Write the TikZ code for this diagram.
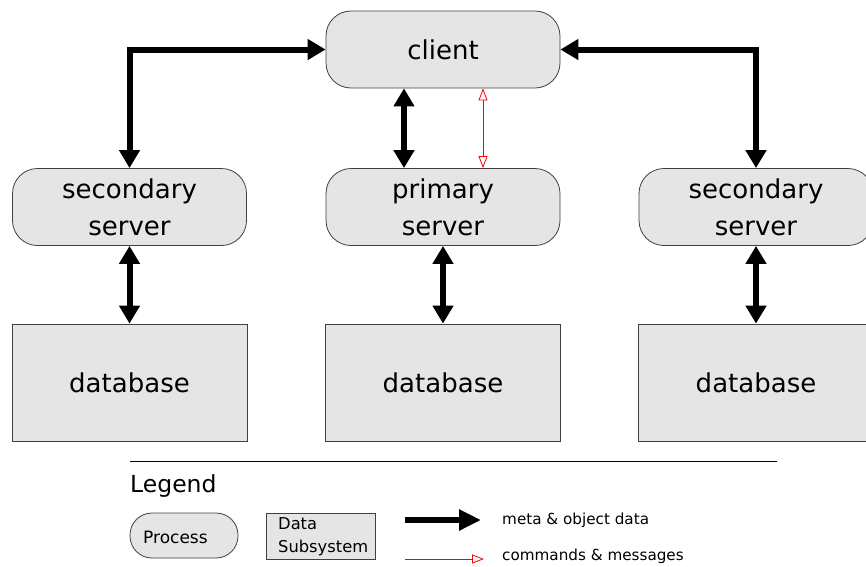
\documentclass[tikz,border=0pt]{standalone}
\usepackage{fontspec}
\setmainfont{DejaVu Sans}
\usetikzlibrary{arrows.meta}
\begin{document}
\begin{tikzpicture}[x=1pt,y=-1pt,
  proc/.style={draw=black!75, line width=0.8pt, fill=black!10, rounded corners=25pt,
    minimum width=234pt, minimum height=77pt, inner sep=0pt, align=center,
    font=\fontsize{26}{37}\selectfont},
  dbox/.style={draw=black!75, line width=0.8pt, fill=black!10,
    minimum width=235pt, minimum height=117pt, inner sep=0pt,
    font=\fontsize{26}{37}\selectfont},
  big/.style={line width=6pt, {Triangle[width=20pt,length=18pt]}-{Triangle[width=20pt,length=18pt]}},
  cmd/.style={red, line width=0.8pt, {Triangle[open,width=9pt,length=12pt]}-{Triangle[open,width=9pt,length=12pt]}},
  lgtext/.style={anchor=west, inner sep=0pt}]
\useasboundingbox (0,0) rectangle (866,566);

% processes
\node[proc] (client) at (443,49.5) {client};
\node[proc] (ssL) at (129.5,207) {secondary\\server};
\node[proc] (ps)  at (443,207) {primary\\server};
\node[proc] (ssR) at (756,207) {secondary\\server};

% data subsystems
\node[dbox] (dbL) at (129.5,382.5) {database};
\node[dbox] (dbM) at (443,382.5) {database};
\node[dbox] (dbR) at (756,382.5) {database};

% data connectors
\draw[big] (ssL.north) |- (client.west);
\draw[big] (client.east) -| (ssR.north);
\draw[big] ([xshift=-39pt]client.south) -- ([xshift=-39pt]ps.north);
\draw[cmd] ([xshift=40pt]client.south) -- ([xshift=40pt]ps.north);
\draw[big] (ssL.south) -- (dbL.north);
\draw[big] (ps.south) -- (dbM.north);
\draw[big] (ssR.south) -- (dbR.north);

% legend
\coordinate (ruleA) at (130,461);
\coordinate (ruleB) at (777,461);
\draw[line width=0.8pt] (ruleA) -- (ruleB);
\node[lgtext, font=\fontsize{23.5}{28}\selectfont] (lgtitle) at (130,486) {Legend};
\node[draw=black!75, line width=0.8pt, fill=black!10, rounded corners=22pt,
  minimum width=108pt, minimum height=45pt, inner sep=0pt] (lgproc) at (184,535.5) {};
\node[lgtext, font=\fontsize{17}{20}\selectfont] (lgproctext) at (143,537) {Process};
\node[draw=black!75, line width=0.8pt, fill=black!10, minimum width=109pt,
  minimum height=46pt, inner sep=0pt] (lgdata) at (320.5,536) {};
\node[anchor=west, align=left, inner sep=0pt, font=\fontsize{16.3}{23}\selectfont]
  (lgdatatext) at (278,537) {Data\\Subsystem};
\coordinate (bigA) at (405,520);
\coordinate (bigB) at (481,520);
\draw[line width=6pt, -{Triangle[width=20pt,length=22pt]}] (bigA) -- (bigB);
\coordinate (cmdA) at (405,559);
\coordinate (cmdB) at (484,559);
\draw[red, line width=0.8pt, -{Triangle[open,width=9pt,length=12pt]}] (cmdA) -- (cmdB);
\node[lgtext, font=\fontsize{15.2}{18}\selectfont] (lgbig) at (502,520) {meta \& object data};
\node[lgtext, font=\fontsize{15.2}{18}\selectfont] (lgcmd) at (502,556) {commands \& messages};
\end{tikzpicture}
\end{document}
